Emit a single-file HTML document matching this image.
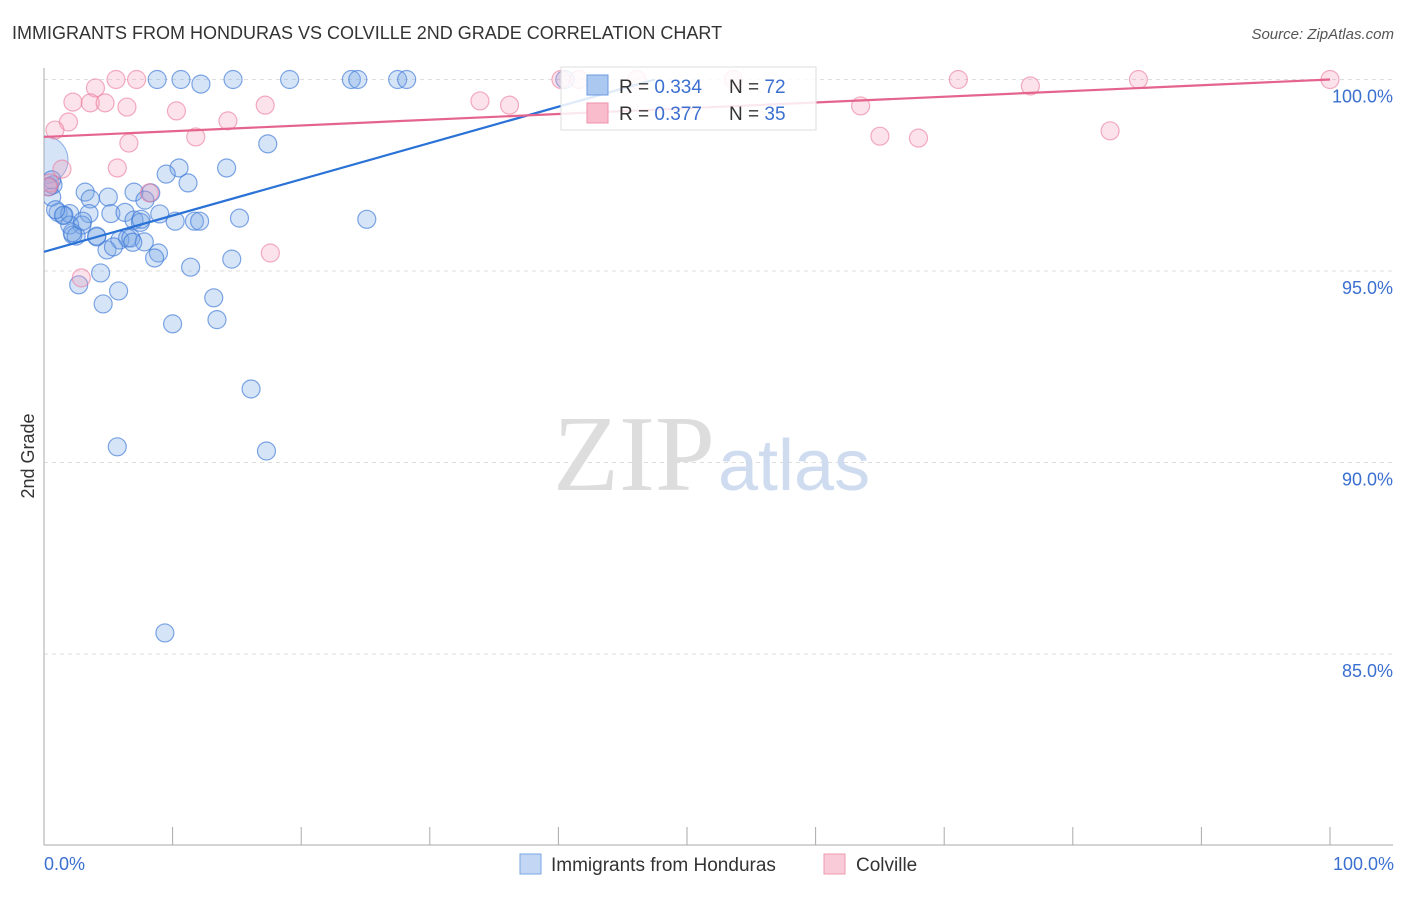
<!DOCTYPE html>
<html><head><meta charset="utf-8"><style>
body{margin:0;background:#fff;font-family:"Liberation Sans",sans-serif}
svg text{font-family:"Liberation Sans",sans-serif}
</style></head><body>
<svg width="1406" height="892">
<defs><clipPath id="plotclip"><rect x="44" y="60" width="1360" height="790"/></clipPath></defs>
<text x="12" y="39" font-size="18" fill="#333">IMMIGRANTS FROM HONDURAS VS COLVILLE 2ND GRADE CORRELATION CHART</text>
<text x="1394" y="39" font-size="15" fill="#555" font-style="italic" text-anchor="end">Source: ZipAtlas.com</text>
<g id="grid"></g>
<text x="715" y="490" font-size="108" fill="#ddd" text-anchor="end" style="font-family:'Liberation Serif',serif">ZIP</text>
<text x="718" y="490" font-size="72" fill="#cfdcf0">atlas</text>
<g id="pts" clip-path="url(#plotclip)"></g>
<g id="lines"></g>
<text transform="translate(34,456) rotate(-90)" font-size="18" fill="#333" text-anchor="middle">2nd Grade</text>
<text x="44" y="870" font-size="18" fill="#3b6fd0">0.0%</text>
<text x="1394" y="870" font-size="18" fill="#3b6fd0" text-anchor="end">100.0%</text>
<g>
<rect x="561" y="67" width="255" height="63" fill="rgba(255,255,255,0.85)" stroke="#ddd"/>
<rect x="587" y="75" width="21" height="20" fill="#aac8f0" stroke="#6a9be0"/>
<rect x="587" y="103" width="21" height="20" fill="#f8bccd" stroke="#ee8fab"/>
<text x="619" y="93" font-size="19" fill="#333">R = <tspan fill="#3b6fd0">0.334</tspan></text>
<text x="729" y="93" font-size="19" fill="#333">N = <tspan fill="#3b6fd0">72</tspan></text>
<text x="619" y="120" font-size="19" fill="#333">R = <tspan fill="#3b6fd0">0.377</tspan></text>
<text x="729" y="120" font-size="19" fill="#333">N = <tspan fill="#3b6fd0">35</tspan></text>
</g>
<g>
<rect x="520" y="854" width="21" height="20" fill="#c3d7f4" stroke="#7aa5e3"/>
<text x="551" y="871" font-size="19" fill="#333">Immigrants from Honduras</text>
<rect x="824" y="854" width="21" height="20" fill="#f9cad7" stroke="#ee9ab2"/>
<text x="856" y="871" font-size="19" fill="#333">Colville</text>
</g>
</svg>
<script>
const yTicks=[100,95,90,85];
const xTickCount=10;
const blueX=[8.8,10.65,12.2,14.7,19.1,23.9,24.4,27.5,28.2,40.5,
17.4,14.2,10.5,9.5,11.2,7.0,8.3,5.0,3.2,3.6,0.7,0.6,0.6,7.85,1.1,1.55,2.0,3.5,5.2,6.3,
9.0,7.0,7.5,7.55,10.2,11.7,12.1,15.2,25.1,2.95,2.0,2.25,2.5,4.1,4.1,5.9,6.5,6.75,7.8,4.9,
5.4,8.9,8.6,11.4,14.6,4.4,2.7,5.8,4.6,13.2,10.0,13.45,16.1,5.7,17.3,9.4,1.5,2.2,0.9,3.0,0.4,6.9];
const blueY=[100,100,99.88,100,100,100,100,100,100,100,
98.32,97.69,97.69,97.53,97.3,97.06,97.04,96.93,97.06,96.88,97.25,97.38,96.93,96.85,96.53,96.46,96.5,96.5,96.5,96.53,
96.49,96.33,96.27,96.35,96.3,96.3,96.3,96.38,96.35,96.2,96.2,95.94,95.91,95.89,95.91,95.81,95.86,95.86,95.76,95.55,
95.63,95.47,95.34,95.1,95.31,94.95,94.64,94.48,94.14,94.3,93.62,93.73,91.92,90.41,90.3,85.55,96.45,96.0,96.6,96.3,97.2,95.75];
const pinkX=[5.6,7.2,4.0,2.25,3.6,4.75,6.45,10.3,17.2,14.3,1.9,0.85,11.8,6.6,1.4,5.7,8.2,17.6,2.9,0.45,33.9,36.2,41.6,46.1,53.6,63.5,65.0,68.0,71.1,76.7,82.9,85.1,100,40.2,0.3];
const pinkY=[100,100,99.78,99.41,99.39,99.39,99.28,99.18,99.33,98.92,98.89,98.68,98.5,98.34,97.66,97.69,97.04,95.47,94.82,97.3,99.44,99.33,100,100,100,99.31,98.52,98.47,100,99.83,98.66,100,100,100,97.2];
const blueLine=[[0,95.5],[47.5,100]];
const pinkLine=[[0,98.5],[100,100]];
const X=v=>44+v*12.86, Y=v=>79.5+(100-v)*38.3;
const NS="http://www.w3.org/2000/svg";
const mk=(t,a,p)=>{const e=document.createElementNS(NS,t);for(const k in a)e.setAttribute(k,a[k]);p.appendChild(e);return e;};
const grid=document.getElementById('grid');
yTicks.forEach(t=>{
 const l=mk('line',{x1:44,x2:1393,y1:Y(t),y2:Y(t),stroke:'#ddd','stroke-dasharray':'4,4'},grid);
 
 
 const tx=mk('text',{x:1393,y:Y(t)+23,'font-size':18,fill:'#3b6fd0','text-anchor':'end'},grid);
 tx.textContent=t.toFixed(1)+'%';
 
 
});
const ax=mk('line',{x1:44,x2:44,y1:68,y2:845,stroke:'#aaa'},grid);


const bx=mk('line',{x1:44,x2:1393,y1:845,y2:845,stroke:'#aaa'},grid);


for(let i=0;i<=xTickCount;i++){
 const t=mk('line',{x1:X(i*10),x2:X(i*10),y1:827,y2:845,stroke:'#aaa'},grid);
 
 
}
const pts=document.getElementById('pts');
const big=mk('circle',{cx:X(0),cy:Y(97.9),r:24,fill:'rgba(120,165,230,0.3)',stroke:'rgba(70,130,220,0.6)'},pts);


blueX.forEach((x,i)=>{
 const c=mk('circle',{cx:X(x),cy:Y(blueY[i]),r:9,fill:'rgba(120,165,230,0.3)',stroke:'rgba(60,120,215,0.65)','stroke-width':1.2},pts);
 
 
});
pinkX.forEach((x,i)=>{
 const c=mk('circle',{cx:X(x),cy:Y(pinkY[i]),r:9,fill:'rgba(245,160,185,0.3)',stroke:'rgba(235,120,155,0.6)','stroke-width':1.2},pts);
 
 
});
const lines=document.getElementById('lines');
const bl=mk('line',{x1:X(blueLine[0][0]),y1:Y(blueLine[0][1]),x2:X(blueLine[1][0]),y2:Y(blueLine[1][1]),stroke:'#2a72d6','stroke-width':2.2},lines);


const pl=mk('line',{x1:X(pinkLine[0][0]),y1:Y(pinkLine[0][1]),x2:X(pinkLine[1][0]),y2:Y(pinkLine[1][1]),stroke:'#e4648d','stroke-width':2.2},lines);


</script>
</body></html>
